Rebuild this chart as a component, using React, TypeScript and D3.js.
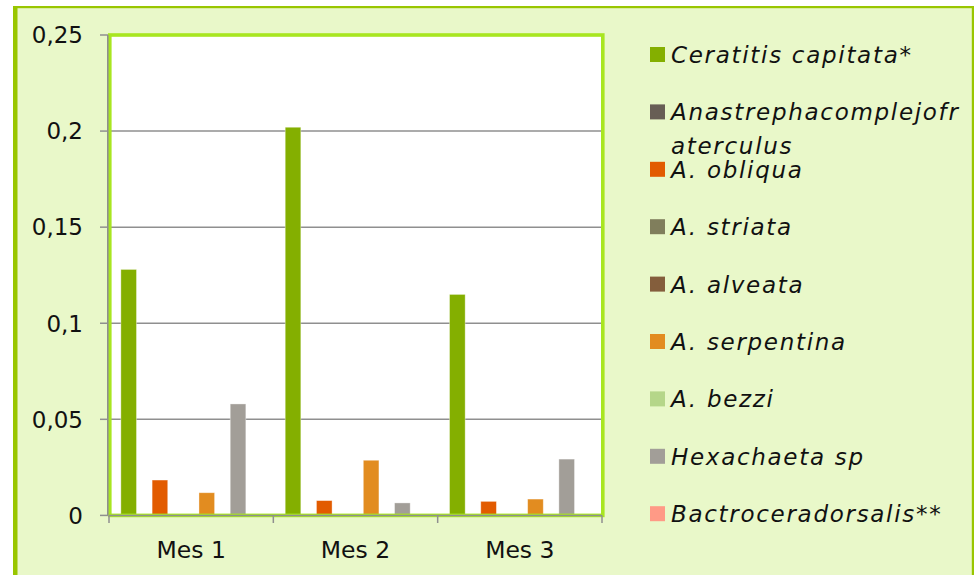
import * as d3 from "d3";

const months = ["Mes 1", "Mes 2", "Mes 3"];
const seriesNames = [
  "Ceratitis capitata*",
  "Anastrephacomplejofraterculus",
  "A. obliqua",
  "A. striata",
  "A. alveata",
  "A. serpentina",
  "A. bezzi",
  "Hexachaeta sp",
  "Bactroceradorsalis**",
];
const seriesColors = [
  "#84AF00",
  "#675E55",
  "#E25B00",
  "#807E5C",
  "#845E3C",
  "#E28C20",
  "#B5D689",
  "#A29E98",
  "#FF9A86",
];
// values per series, one per month
const seriesValues = [
  [0.128, 0.202, 0.115],
  [0, 0, 0],
  [0.0184, 0.0077, 0.0073],
  [0, 0, 0],
  [0, 0, 0],
  [0.0118, 0.0287, 0.0085],
  [0, 0, 0],
  [0.058, 0.0065, 0.0293],
  [0, 0, 0],
];
const yTicks = [0, 0.05, 0.1, 0.15, 0.2, 0.25];
const yTickLabels = ["0", "0,05", "0,1", "0,15", "0,2", "0,25"];

const W = 976;
const H = 575;
const plot = { left: 109, right: 602, top: 35, bottom: 515.4 };
const font = "'DejaVu Sans', sans-serif";

// legend labels are wrapped by the chart box at 20 chars
const wrap = (s: string) => (s.length > 20 ? [s.slice(0, 20), s.slice(20)] : [s]);

export default function App() {
  const x = d3.scaleBand().domain(months).range([plot.left, plot.right]).padding(0);
  const inner = d3
    .scaleBand<number>()
    .domain(d3.range(seriesNames.length))
    .range([0, x.bandwidth()])
    .paddingInner(0)
    .paddingOuter(0.76);
  const y = d3.scaleLinear().domain([0, 0.25]).range([plot.bottom, plot.top]);

  const boundaries = months.map((m) => x(m)!).concat([plot.right]);

  return (
    <div style={{ position: "absolute", left: 0, top: 0 }}>
      <svg width={W} height={H} style={{ display: "block" }}>
        <rect x={0} y={0} width={W} height={H} fill="#ffffff" />
        {/* outer chart area */}
        <rect x={15} y={7} width={958} height={H} fill="#E9F8C9" />
        <rect x={13} y={7} width={4.5} height={H} fill="#99C600" />
        <rect x={13} y={6} width={961} height={2.2} fill="#99C600" />
        <rect x={971.8} y={6} width={2.2} height={H} fill="#99C600" />

        {/* plot area */}
        <rect
          x={plot.left}
          y={plot.top}
          width={plot.right - plot.left}
          height={plot.bottom - plot.top - 0.5}
          fill="#ffffff"
        />
        {yTicks.slice(1).map((t) => (
          <line key={t} x1={plot.left} x2={plot.right} y1={y(t)} y2={y(t)} stroke="#8F8F8F" strokeWidth={1.5} />
        ))}

        {seriesValues.map((vals, si) =>
          vals.map((v, mi) =>
            v > 0 ? (
              <rect
                key={`${si}-${mi}`}
                x={x(months[mi])! + inner(si)!}
                y={y(v)}
                width={inner.bandwidth()}
                height={plot.bottom - y(v)}
                fill={seriesColors[si]}
                stroke="#ffffff"
                strokeOpacity={0.45}
                strokeWidth={0.8}
              />
            ) : null
          )
        )}

        {/* plot border */}
        <rect
          x={plot.left + 0.8}
          y={plot.top}
          width={plot.right - plot.left}
          height={plot.bottom - plot.top}
          fill="none"
          stroke="#A8E620"
          strokeWidth={3.6}
        />

        {/* y axis */}
        <line x1={107.8} x2={107.8} y1={plot.top} y2={plot.bottom} stroke="#8F8F8F" strokeWidth={1.6} />
        {yTicks.map((t, i) => (
          <g key={t}>
            <line x1={100} x2={108} y1={y(t)} y2={y(t)} stroke="#8F8F8F" strokeWidth={1.5} />
            <text
              x={83}
              y={y(t)}
              dy="0.36em"
              textAnchor="end"
              fontFamily={font}
              fontSize={23}
              fill="#111111"
            >
              {yTickLabels[i]}
            </text>
          </g>
        ))}

        {/* x axis */}
        <line x1={plot.left} x2={plot.right} y1={plot.bottom} y2={plot.bottom} stroke="#8F8F8F" strokeWidth={1.5} />
        {boundaries.map((b, i) => (
          <line key={i} x1={b} x2={b} y1={plot.bottom} y2={523} stroke="#8F8F8F" strokeWidth={1.5} />
        ))}
        {months.map((m) => (
          <text
            key={m}
            x={x(m)! + x.bandwidth() / 2}
            y={558}
            textAnchor="middle"
            fontFamily={font}
            fontSize={23.5}
            fill="#111111"
          >
            {m}
          </text>
        ))}

        {/* legend */}
        {seriesNames.map((name, i) => {
          const base = 63 + i * 57.4;
          return (
            <g key={name}>
              <rect x={650} y={base - 16} width={15} height={15} fill={seriesColors[i]} />
              <text
                x={671}
                y={base}
                fontFamily={font}
                fontStyle="italic"
                fontSize={23}
                letterSpacing={1.7}
                fill="#111111"
              >
                {wrap(name).map((line, li) => (
                  <tspan key={li} x={671} dy={li === 0 ? 0 : 34}>
                    {line}
                  </tspan>
                ))}
              </text>
            </g>
          );
        })}
      </svg>
    </div>
  );
}
